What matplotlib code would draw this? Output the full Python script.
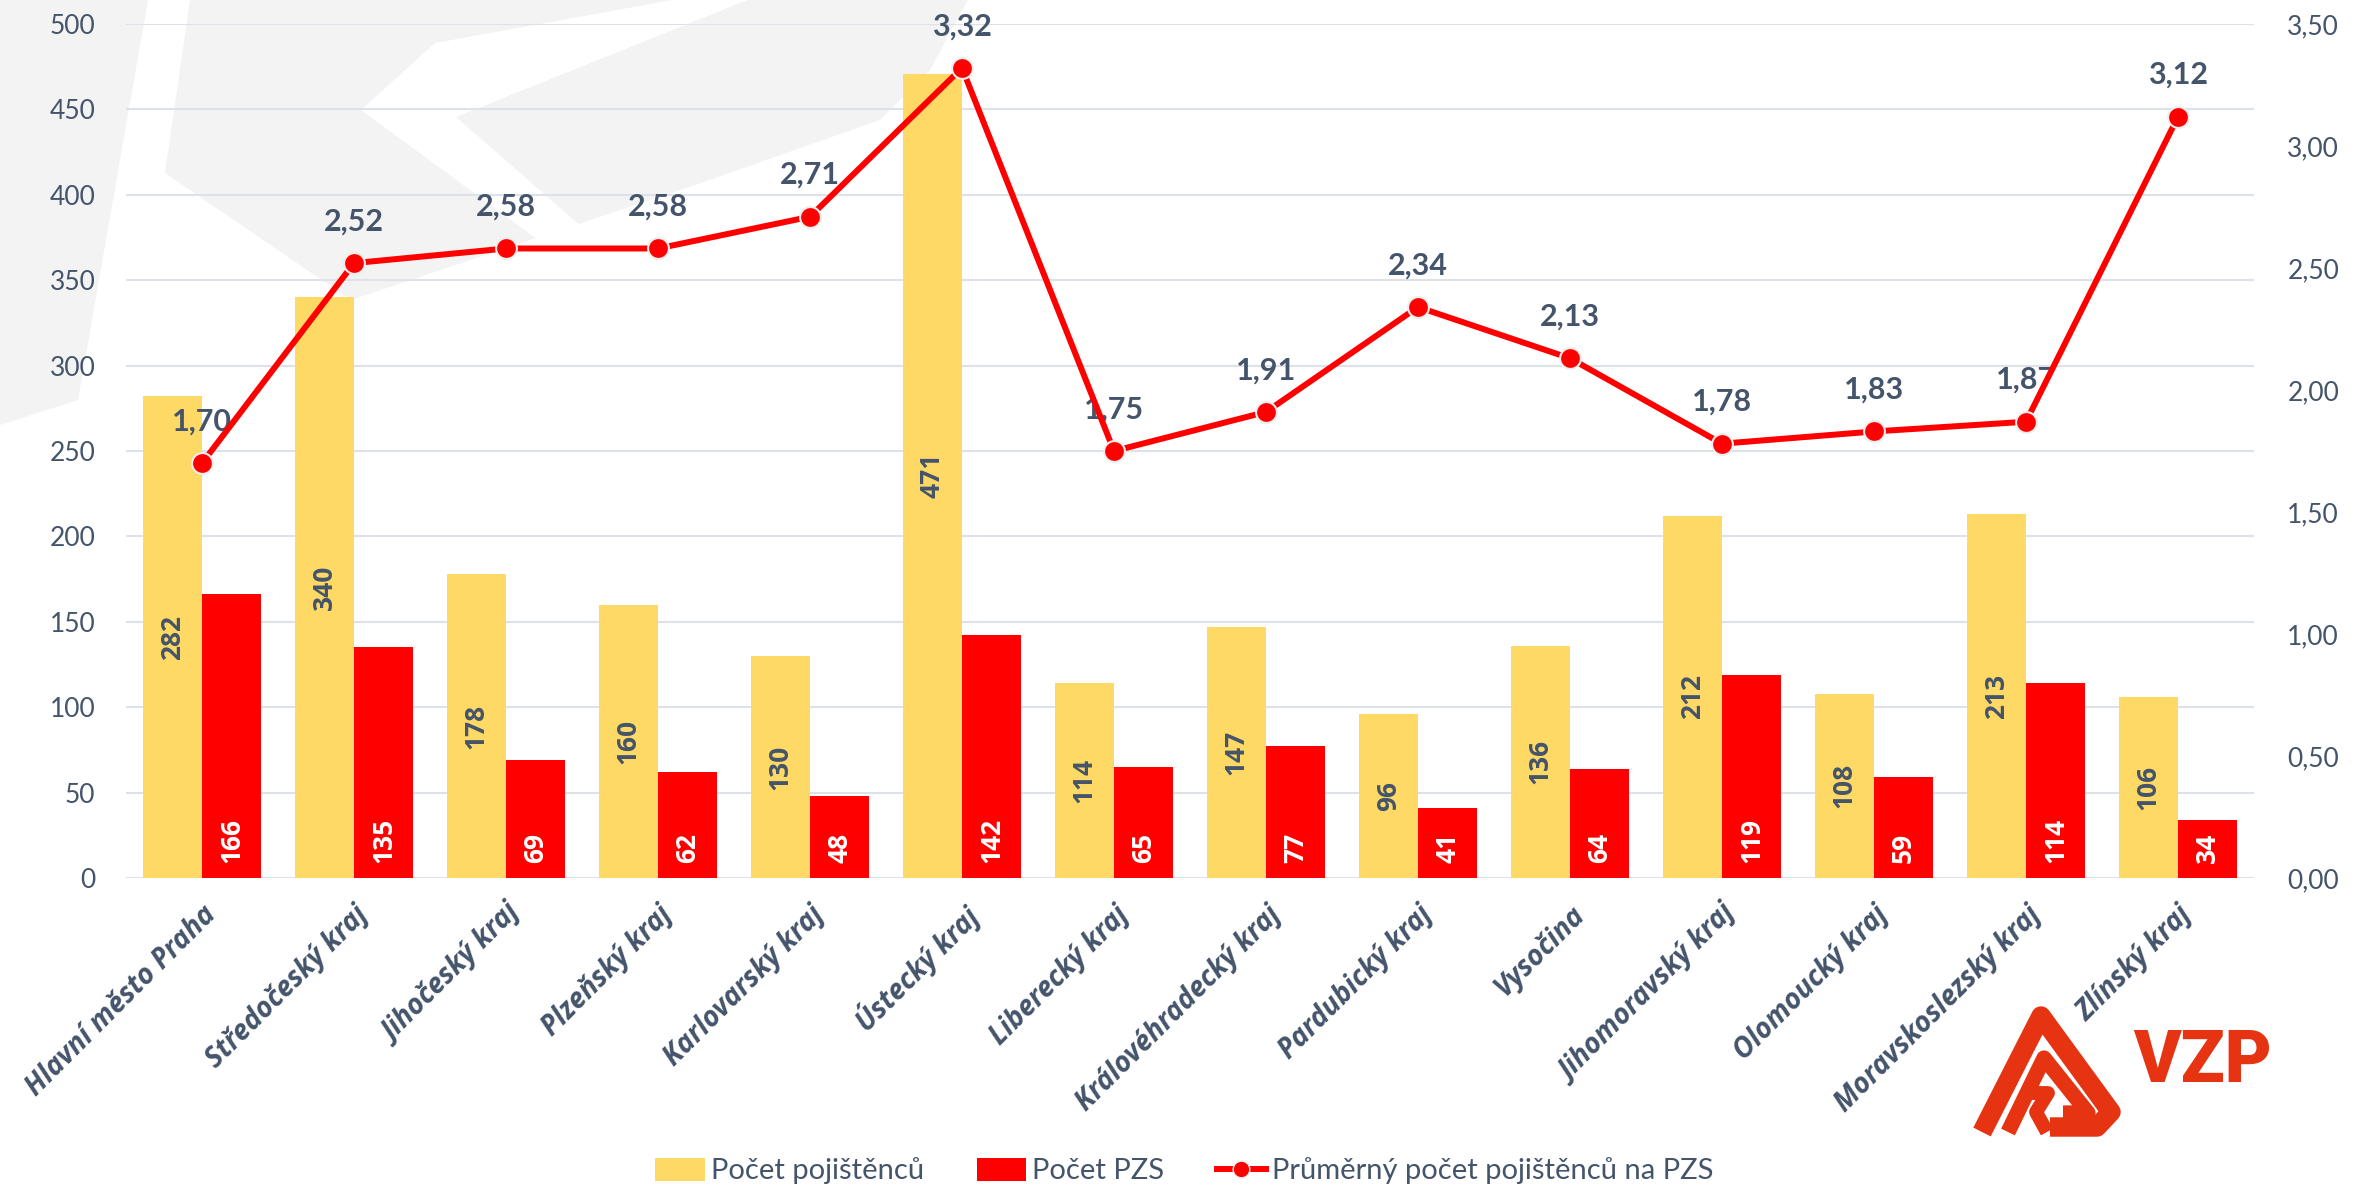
import matplotlib
matplotlib.use("Agg")
import matplotlib.pyplot as plt
import numpy as np
from matplotlib.patches import Polygon, Patch
from matplotlib.lines import Line2D

# data
regions = ["Hlavní město Praha", "Středočeský kraj", "Jihočeský kraj", "Plzeňský kraj",
           "Karlovarský kraj", "Ústecký kraj", "Liberecký kraj", "Královéhradecký kraj",
           "Pardubický kraj", "Vysočina", "Jihomoravský kraj", "Olomoucký kraj",
           "Moravskoslezský kraj", "Zlínský kraj"]
pojistenci = [282, 340, 178, 160, 130, 471, 114, 147, 96, 136, 212, 108, 213, 106]
pzs = [166, 135, 69, 62, 48, 142, 65, 77, 41, 64, 119, 59, 114, 34]
prumer = [1.70, 2.52, 2.58, 2.58, 2.71, 3.32, 1.75, 1.91, 2.34, 2.13, 1.78, 1.83, 1.87, 3.12]

left_ticks = [0, 50, 100, 150, 200, 250, 300, 350, 400, 450, 500]
right_ticks = [0, 0.5, 1.0, 1.5, 2.0, 2.5, 3.0, 3.5]

YELLOW = "#FFD966"
RED = "#FF0000"
DARK = "#44546A"
GRID = "#DDE2E8"
LOGO = "#E63312"

W, H = 2369, 1186
fig = plt.figure(figsize=(W / 100, H / 100), dpi=100)
fig.patch.set_facecolor("white")

# background layer in pixel coords (watermark + logo)
bg = fig.add_axes([0, 0, 1, 1], zorder=-10)
bg.set_xlim(0, W)
bg.set_ylim(H, 0)
bg.axis("off")

wm_col = "#F3F3F3"
for poly in [
    [(0, 0), (148, 0), (78, 400), (0, 425)],
    [(190, 0), (968, 0), (930, 70), (880, 120), (701, 183), (351, 300), (165, 173)],
]:
    bg.add_patch(Polygon(poly, closed=True, facecolor=wm_col, edgecolor="none"))
bg.add_patch(Polygon([(361, 110), (435, 43), (700, -5), (760, -5), (456, 117),
                      (582, 227), (545, 245)], closed=True, facecolor="white",
                     edgecolor="none"))

ax = fig.add_axes([126 / W, 1 - 878 / H, (2254 - 126) / W, (878 - 24) / H])
ax.patch.set_alpha(0)
x = np.arange(len(regions))
bw = 0.39

ax.bar(x - bw / 2, pojistenci, width=bw, color=YELLOW, zorder=2)
ax.bar(x + bw / 2, pzs, width=bw, color=RED, zorder=2)

for i in range(len(regions)):
    ax.text(x[i] - bw / 2, pojistenci[i] / 2, str(pojistenci[i]), rotation=90,
            ha="center", va="center", color=DARK, fontsize=19, fontweight="bold",
            family="Open Sans", zorder=3)
    ax.text(x[i] + bw / 2, 9, str(pzs[i]), rotation=90, ha="center", va="bottom",
            color="white", fontsize=19, fontweight="bold", family="Open Sans", zorder=3)

ax.set_xlim(-0.5, len(regions) - 0.5)
ax.set_ylim(0, 500)
ax.set_yticks(left_ticks)
ax.grid(axis="y", color=GRID, lw=1.5, zorder=0)
ax.set_axisbelow(True)
for s in ax.spines.values():
    s.set_visible(False)
ax.axhline(0, color=GRID, lw=2, zorder=1)
ax.tick_params(axis="both", length=0)
ax.tick_params(axis="y", labelsize=19, labelcolor=DARK, pad=22)
for lab in ax.get_yticklabels():
    lab.set_family("Lato")
ax.set_xticks(x)
ax.set_xticklabels(regions, rotation=45, ha="right", rotation_mode="anchor",
                   fontsize=20, fontweight="bold", style="italic", color=DARK,
                   family="Open Sans")
ax.tick_params(axis="x", pad=16)

ax2 = ax.twinx()
ax2.plot(x, prumer, color=RED, lw=4.3, marker="o", ms=15, mfc=RED, mec="#EDEDED",
         mew=1.5, zorder=5)
for i, v in enumerate(prumer):
    ax2.annotate(f"{v:.2f}".replace(".", ","), (x[i], v), xytext=(0, 20),
                 textcoords="offset points", ha="center", va="bottom", color=DARK,
                 fontsize=22, fontweight="bold", family="Lato")
ax2.set_ylim(0, 3.5)
ax2.set_yticks(right_ticks)
ax2.set_yticklabels([f"{t:.2f}".replace(".", ",") for t in right_ticks],
                    fontsize=19, color=DARK, family="Lato")
ax2.tick_params(axis="y", length=0, pad=24)
for s in ax2.spines.values():
    s.set_visible(False)

# legend
handles = [Patch(facecolor=YELLOW, edgecolor="none"),
           Patch(facecolor=RED, edgecolor="none"),
           Line2D([0], [0], color=RED, lw=4.3, marker="o", ms=12, mfc=RED, mec="#EDEDED")]
labels = ["Počet pojištěnců", "Počet PZS", "Průměrný počet pojištěnců na PZS"]
fig.legend(handles, labels, loc="center", bbox_to_anchor=(0.5, 1 - 1171 / H), ncol=3,
           frameon=False, prop={"family": "Lato", "size": 21}, labelcolor=DARK,
           handlelength=1.7, handleheight=0.8, handletextpad=0.2, columnspacing=1.8)

# VZP logo bottom right
logo_lines = [
    ([(1982, 1132), (2041, 1016), (2111, 1112), (2097, 1127), (2050, 1127)], 14),
    ([(2008, 1132), (2044, 1058), (2088, 1113), (2063, 1113)], 11),
    ([(2028, 1093), (2048, 1093), (2036, 1112), (2047, 1132)], 10),
]
for pts, lw in logo_lines:
    bg.plot([a for a, b in pts], [b for a, b in pts], color=LOGO, lw=lw,
            solid_joinstyle="round", solid_capstyle="butt")
fig.text(2133 / W, 1 - 1062 / H, "VZP", color=LOGO, fontsize=52, fontweight="heavy",
         family="Roboto", ha="left", va="center")

fig.savefig("out.png", dpi=100)
